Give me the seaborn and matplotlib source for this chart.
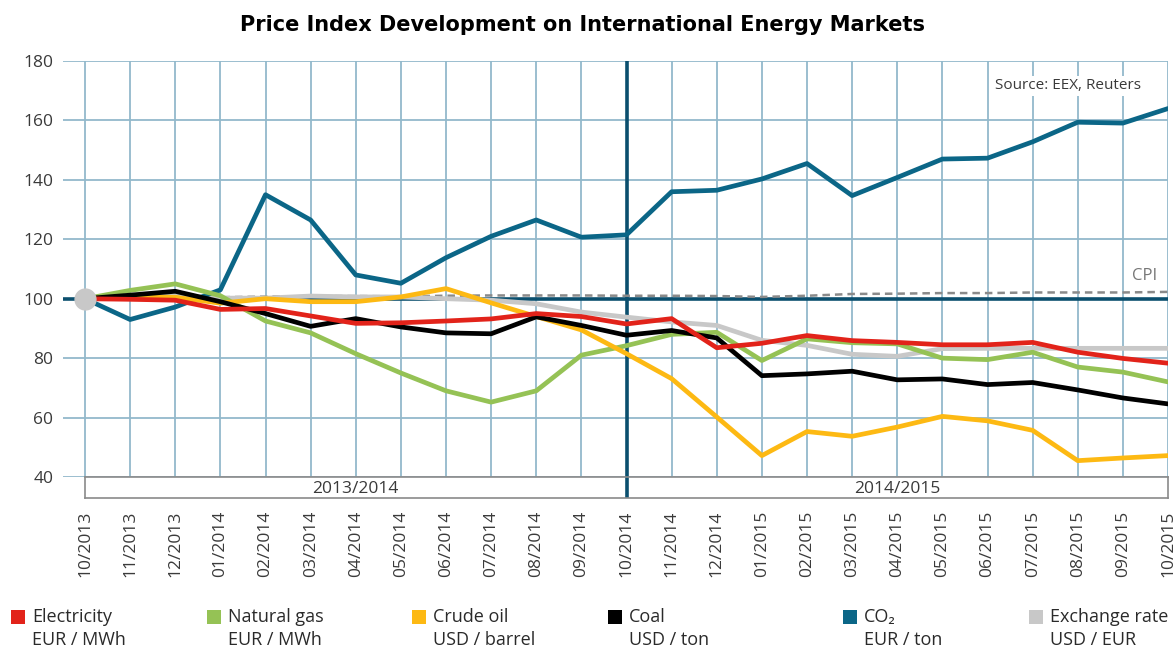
import matplotlib
matplotlib.use("Agg")
import matplotlib.pyplot as plt
from matplotlib.patches import Rectangle
import seaborn as sns
import pandas as pd

# maand labels (x-as)
months = ["10/2013", "11/2013", "12/2013", "01/2014", "02/2014", "03/2014",
          "04/2014", "05/2014", "06/2014", "07/2014", "08/2014", "09/2014",
          "10/2014", "11/2014", "12/2014", "01/2015", "02/2015", "03/2015",
          "04/2015", "05/2015", "06/2015", "07/2015", "08/2015", "09/2015",
          "10/2015"]

electricity = [100, 99.8, 99.5, 96.4, 96.7, 94.2, 91.7, 91.9, 92.5, 93.2, 95.0, 94.0,
               91.5, 93.3, 83.5, 85.0, 87.6, 85.9, 85.3, 84.5, 84.5, 85.3, 82.0, 79.9, 78.3]
natural_gas = [100, 102.8, 105.0, 101.0, 92.5, 88.5, 81.5, 75.0, 69.0, 65.2, 69.0, 81.0,
               84.2, 88.0, 88.7, 79.2, 86.5, 85.2, 84.8, 80.0, 79.5, 82.0, 77.0, 75.3, 72.0]
crude_oil = [100, 100.6, 100.5, 98.5, 100.0, 99.0, 99.0, 100.6, 103.4, 98.6, 94.0, 89.5,
             81.5, 73.1, 60.2, 47.2, 55.3, 53.7, 56.8, 60.4, 58.9, 55.7, 45.5, 46.4, 47.2]
coal = [100, 101.2, 102.5, 99.0, 95.0, 90.7, 93.3, 90.5, 88.5, 88.2, 93.9, 91.0,
        87.7, 89.3, 86.8, 74.1, 74.7, 75.6, 72.7, 73.0, 71.1, 71.8, 69.3, 66.6, 64.6]
co2 = [100, 93.0, 97.2, 103.0, 135.0, 126.5, 108.0, 105.2, 113.8, 121.0, 126.5, 120.7,
       121.5, 136.0, 136.5, 140.3, 145.5, 134.7, 140.8, 147.0, 147.3, 152.8, 159.4, 159.1, 164.0]
exchange_rate = [100, 100.6, 101.0, 100.2, 100.2, 100.9, 100.6, 100.6, 100.0, 99.5, 98.3, 95.5,
                 93.8, 92.2, 91.0, 86.0, 84.3, 81.3, 80.6, 83.2, 83.3, 83.3, 83.3, 83.3, 83.3]
cpi = [100, 100.4, 100.6, 100.5, 100.7, 100.9, 100.9, 100.8, 101.0, 101.1, 101.1, 101.1,
       101.0, 101.0, 100.9, 100.6, 101.0, 101.6, 101.7, 101.9, 101.9, 102.1, 102.1, 102.1, 102.3]

series_names = ["Electricity", "Natural gas", "Crude oil", "Coal", "CO₂", "Exchange rate"]
series_units = ["EUR / MWh", "EUR / MWh", "USD / barrel", "USD / ton", "EUR / ton", "USD / EUR"]
series_values = [electricity, natural_gas, crude_oil, coal, co2, exchange_rate]
colors = ["#E2231A", "#95C255", "#FDB913", "#000000", "#0B6687", "#C8C8C8"]
palette = dict(zip(series_names, colors))

periods = ["2013/2014", "2014/2015"]

rows = []
for name, vals in zip(series_names, series_values):
    for i, v in enumerate(vals):
        rows.append({"idx": i, "value": v, "series": name})
df = pd.DataFrame(rows)

sns.set_style("white")
plt.rcParams["font.family"] = ["Open Sans", "DejaVu Sans"]

W, H = 1174, 650
fig = plt.figure(figsize=(W / 100, H / 100), dpi=100)

# hoofd-assen
ax = fig.add_axes([63 / W, 1 - 477 / H, (1168 - 63) / W, (477 - 61) / H])
px = (1168 - 85) / 24
ax.set_xlim(-22 / px, 24)
ax.set_ylim(40, 180)

grid_c = "#93B9CB"
for i in range(25):
    ax.axvline(i, color=grid_c, lw=1.3, zorder=0)
for y in range(40, 181, 20):
    ax.axhline(y, color=grid_c, lw=1.3, zorder=0)

ax.axhline(100, color="#0B4F6E", lw=2.6, zorder=1)
ax.axvline(12, color="#0B4F6E", lw=2.6, zorder=1)

# CPI als stippellijn
ax.plot(range(25), cpi, color="#8A8A8A", lw=1.8, dashes=(3, 2), zorder=2)

draw_order = ["Exchange rate", "CO₂", "Natural gas", "Crude oil", "Coal", "Electricity"]
sns.lineplot(data=df, x="idx", y="value", hue="series", hue_order=draw_order,
             palette=palette, lw=3.4, legend=False, ax=ax, zorder=3)
ax.plot(0, 100, "o", ms=15, color="#C8C8C8", zorder=5)

ax.set_xticks([])
ax.set_yticks(range(40, 181, 20))
ax.tick_params(axis="y", length=0, pad=7, labelsize=12.5, labelcolor="#3A3A3A")
ax.set_xlabel("")
ax.set_ylabel("")
for s in ax.spines.values():
    s.set_visible(False)

ax.text((1068 - 85) / px, 171.6, "Source: EEX, Reuters", ha="center", va="center",
        fontsize=11, color="#3A3A3A",
        bbox=dict(facecolor="white", edgecolor="none", pad=2), zorder=6)
ax.text((1145 - 85) / px, 107.5, "CPI", ha="center", va="center",
        fontsize=12, color="#777777")

# jaarband onder de grafiek
band = fig.add_axes([85 / W, 1 - 498 / H, (1168 - 85) / W, 21 / H])
band.set_xlim(0, 24)
band.set_ylim(0, 1)
band.axvline(12, color="#0B4F6E", lw=2.6)
band.text(6, 0.45, periods[0], ha="center", va="center", fontsize=12.5, color="#3A3A3A")
band.text(18, 0.45, periods[1], ha="center", va="center", fontsize=12.5, color="#3A3A3A")
band.set_yticks([])
band.set_xticks(range(25))
band.set_xticklabels(months, rotation=90, fontsize=12.5, color="#3A3A3A")
band.tick_params(axis="x", length=0, pad=9)
for s in band.spines.values():
    s.set_color("#8A8A8A")
    s.set_linewidth(1.2)

fig.text(582 / W, 1 - 25 / H, "Price Index Development on International Energy Markets",
         ha="center", va="center", fontsize=15, fontweight="bold", family="DejaVu Sans",
         color="black")

# legenda
leg_x = [11, 207, 412, 608, 843, 1029]
for x0, name, unit, c in zip(leg_x, series_names, series_units, colors):
    fig.patches.append(Rectangle((x0 / W, 1 - 624 / H), 14 / W, 14 / H,
                                 transform=fig.transFigure, facecolor=c, edgecolor="none"))
    fig.text((x0 + 21) / W, 1 - 617 / H, name, ha="left", va="center",
             fontsize=13, color="#2A2A2A")
    fig.text((x0 + 21) / W, 1 - 640 / H, unit, ha="left", va="center",
             fontsize=13, color="#2A2A2A")

fig.savefig("out.png", dpi=100)
